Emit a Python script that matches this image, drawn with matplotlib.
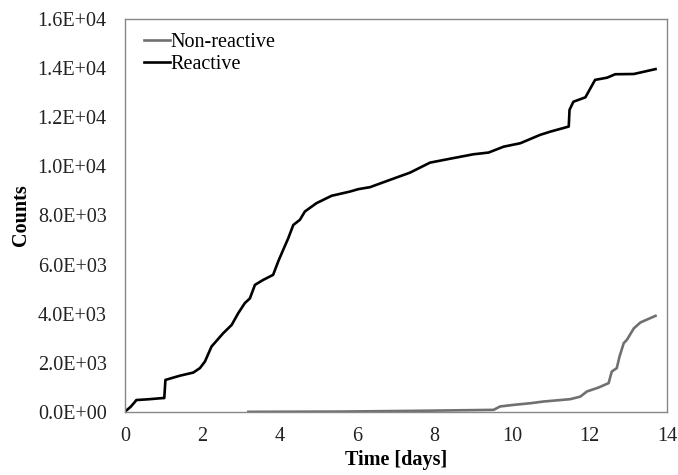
import matplotlib
matplotlib.use("Agg")
import matplotlib.pyplot as plt
from matplotlib.ticker import FuncFormatter

# Reactive counts vs time (days)
reactive_t = [0.0, 0.15, 0.26, 0.30, 0.60, 0.98, 1.02, 1.05, 1.42, 1.77, 1.94, 2.07,
              2.24, 2.54, 2.76, 2.93, 3.10, 3.23, 3.36, 3.57, 3.83, 3.96, 4.09,
              4.22, 4.35, 4.52, 4.65, 4.95, 5.34, 5.81, 6.03, 6.33, 6.85, 7.36,
              7.88, 8.40, 9.00, 9.39, 9.78, 10.21, 10.72, 10.98, 11.46, 11.48,
              11.58, 11.89, 12.14, 12.45, 12.66, 13.14, 13.70]
reactive_c = [0, 200, 400, 480, 510, 560, 560, 1300, 1470, 1600, 1780, 2050,
              2660, 3200, 3540, 4020, 4430, 4620, 5170, 5370, 5580, 6120, 6600,
              7070, 7610, 7820, 8160, 8500, 8800, 8970, 9070, 9150, 9450, 9740,
              10150, 10310, 10490, 10560, 10800, 10940, 11280, 11410, 11620,
              12300, 12630, 12810, 13520, 13610, 13750, 13760, 13960]

# Non-reactive counts vs time (days)
nonreactive_t = [3.19, 5.56, 7.50, 9.52, 9.69, 10.08, 10.47, 10.81, 11.50, 11.76,
                 11.93, 12.23, 12.49, 12.57, 12.70, 12.77, 12.88, 12.96, 13.14,
                 13.31, 13.70]
nonreactive_c = [0, 10, 40, 80, 220, 290, 350, 420, 515, 620,
                 830, 990, 1170, 1640, 1780, 2250, 2800, 2930, 3400,
                 3640, 3910]

plt.rcParams['font.family'] = ['Liberation Serif', 'DejaVu Serif']

fig = plt.figure(figsize=(6.78, 4.75), dpi=100)
ax = fig.add_axes([0.184, 0.133, 0.800, 0.827])

ax.plot(nonreactive_t, nonreactive_c, color='#707070', lw=1.9, label='Non-reactive')
ax.plot(reactive_t, reactive_c, color='black', lw=1.9, label='Reactive')

ax.set_xlim(0, 14)
ax.set_ylim(0, 16000)
ax.set_xticks(range(0, 15, 2))
ax.set_yticks(range(0, 16001, 2000))
ax.yaxis.set_major_formatter(FuncFormatter(lambda v, _: f"{v:.1E}"))
ax.tick_params(length=0, labelsize=14.5, colors='#222222')
ax.tick_params(axis='x', pad=11)
ax.tick_params(axis='y', pad=13)
for s in ax.spines.values():
    s.set_color('#888888')
    s.set_linewidth(1.0)

ax.set_xlabel('Time [days]', fontsize=14.5, fontweight='bold', labelpad=3)
ax.set_ylabel('Counts', fontsize=14.5, fontweight='bold', labelpad=5)

ax.legend(loc='upper left', frameon=False, fontsize=14.5, handlelength=1.3,
          handletextpad=0.0, borderaxespad=0.3, labelspacing=0.15,
          bbox_to_anchor=(0.01, 1.0))

fig.savefig('out.png', dpi=100)
